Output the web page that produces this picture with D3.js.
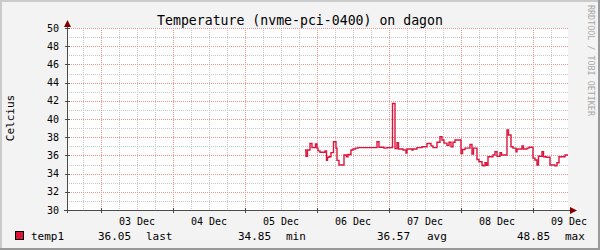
<!DOCTYPE html>
<html>
<head>
<meta charset="utf-8">
<script src="https://cdn.jsdelivr.net/npm/d3@7"></script>
<style>
  body { margin: 0; background: #fff; }
  svg { display: block; }
  text { font-family: "DejaVu Sans Mono", monospace; }
</style>
</head>
<body>
<svg id="chart" width="600" height="250"></svg>
<script>
// Chart data
const title = "Temperature (nvme-pci-0400) on dagon";
const yTitle = "Celcius";
const seriesName = "temp1";

// sample times, in hours after 03 Dec 00:00, and temperature at each step
const hoursFromDec3 = [
  68.0, 68.33, 68.83, 69.67, 70.33, 71.5, 72.0, 72.33, 73.0, 74.67,
  75.17, 75.5, 76.0, 76.67, 77.5, 78.33, 78.67, 79.33, 81.0, 81.83,
  82.33, 83.33, 84.0, 84.83, 85.67, 92.0, 92.67, 94.33, 95.33, 97.17,
  98.0, 98.67, 99.17, 100.67, 101.67, 102.0, 103.67, 104.0, 105.33, 107.0,
  108.67, 110.0, 110.67, 112.0, 113.0, 113.67, 114.33, 115.33, 116.0, 116.67,
  117.33, 118.0, 120.0, 120.5, 121.33, 123.0, 123.67, 124.17, 125.33, 126.0,
  127.0, 127.33, 128.0, 128.5, 129.0, 130.67, 131.33, 132.0, 133.0, 133.5,
  135.33, 135.83, 136.67, 137.33, 138.33, 138.67, 140.33, 140.83, 142.0, 142.67,
  144.0, 144.67, 145.33, 145.83, 147.0, 147.5, 148.33, 149.67, 151.33, 152.0,
  152.67, 154.67
];
const temps = [
  36.6, 35.9, 36.6, 37.3, 36.85, 37.25, 36.8, 36.5, 36.35, 36.5,
  35.45, 35.8, 35.85, 36.3, 37.5, 36.8, 35.45, 34.95, 36.05, 35.85,
  36.1, 36.6, 36.7, 36.8, 36.85, 37.5, 36.9, 36.8, 36.85, 41.7,
  36.75, 37.4, 36.7, 36.6, 36.25, 36.7, 36.6, 36.7, 36.85, 36.95,
  37.3, 37.05, 36.85, 37.45, 38.05, 37.7, 37.35, 37.1, 37.45, 36.95,
  37.45, 37.7, 36.2, 36.65, 36.8, 37.2, 36.15, 36.8, 35.55, 35.3,
  34.95, 34.85, 35.2, 34.9, 35.85, 36.05, 36.4, 35.9, 36.3, 36.05,
  38.8, 38.25, 36.95, 36.8, 36.4, 36.7, 37.05, 36.7, 36.8, 36.9,
  35.7, 35.5, 34.95, 35.9, 36.4, 35.85, 35.8, 34.95, 34.85, 35.2,
  35.85, 36.05
];

const yTicks = [30, 32, 34, 36, 38, 40, 42, 44, 46, 48, 50];
const legendLabels = ["last", "min", "avg", "max"];
const legendValues = [36.05, 34.85, 36.57, 48.85];

// layout
const W = 600, H = 250;
const plot = { left: 67, right: 568, top: 28, bottom: 210 };
const axisColor = "#4a4a4a";
const arrowColor = "#7f0000";
const lineColor = "#dc143c";

const svg = d3.select("#chart");

const dec3 = new Date(2021, 11, 3);
const atHour = h => new Date(dec3.getTime() + h * 3600e3);

const x = d3.scaleTime()
  .domain([atHour(-11.33), atHour(155.67)])
  .range([plot.left, plot.right]);
const y = d3.scaleLinear().domain([30, 50]).range([plot.bottom, plot.top]);

// background with 3D-ish frame
svg.append("rect").attr("width", W).attr("height", H).attr("fill", "#f3f3f3");
svg.append("path").attr("d", `M1,${H} V1 H${W}`).attr("fill", "none")
  .attr("stroke", "#cbcbcb").attr("stroke-width", 2);
svg.append("path").attr("d", `M0,${H - 1} H${W - 1} V0`).attr("fill", "none")
  .attr("stroke", "#999").attr("stroke-width", 2);

svg.append("rect")
  .attr("x", plot.left).attr("y", plot.top)
  .attr("width", plot.right - plot.left).attr("height", plot.bottom - plot.top)
  .attr("fill", "#fff");

// grid
const grid = svg.append("g").attr("shape-rendering", "crispEdges")
  .attr("stroke-dasharray", "1,1");
const [t0, t1] = x.domain();
const days = d3.timeDay.range(t0, t1);
const sixHours = d3.timeHour.every(6).range(t0, t1).filter(d => d.getHours() !== 0);

grid.selectAll(".vmin").data(sixHours).join("line")
  .attr("x1", d => Math.round(x(d)) + 0.5).attr("x2", d => Math.round(x(d)) + 0.5)
  .attr("y1", plot.top).attr("y2", plot.bottom)
  .attr("stroke", "#c8c8c8");

const minorY = d3.range(31, 50, 2);
grid.selectAll(".hmin").data(minorY).join("line")
  .attr("x1", plot.left).attr("x2", plot.right)
  .attr("y1", d => Math.round(y(d)) + 0.5).attr("y2", d => Math.round(y(d)) + 0.5)
  .attr("stroke", "#c8c8c8");

grid.selectAll(".vmaj").data(days).join("line")
  .attr("x1", d => Math.round(x(d)) + 0.5).attr("x2", d => Math.round(x(d)) + 0.5)
  .attr("y1", plot.top).attr("y2", plot.bottom)
  .attr("stroke", "#eb9595");

grid.selectAll(".hmaj").data(yTicks.filter(d => d > 30)).join("line")
  .attr("x1", plot.left).attr("x2", plot.right)
  .attr("y1", d => Math.round(y(d)) + 0.5).attr("y2", d => Math.round(y(d)) + 0.5)
  .attr("stroke", "#eb9595");

// data line (step after each sample, held to the end of the graph)
const points = hoursFromDec3.map((h, i) => ({ t: atHour(h), v: temps[i] }));
points.push({ t: t1, v: temps[temps.length - 1] });

svg.append("path")
  .datum(points)
  .attr("fill", "none")
  .attr("stroke", lineColor)
  .attr("stroke-width", 1.4)
  .attr("d", d3.line().x(d => x(d.t)).y(d => y(d.v)).curve(d3.curveStepAfter));

// axes
const ax = svg.append("g").attr("shape-rendering", "crispEdges").attr("stroke", axisColor);
ax.append("line").attr("x1", plot.left - 3).attr("x2", plot.right + 5)
  .attr("y1", plot.bottom + 0.5).attr("y2", plot.bottom + 0.5);
ax.append("line").attr("x1", plot.left + 0.5).attr("x2", plot.left + 0.5)
  .attr("y1", plot.bottom + 3).attr("y2", plot.top - 4);
ax.selectAll(".yt").data(yTicks).join("line")
  .attr("x1", plot.left - 2).attr("x2", plot.left + 3)
  .attr("y1", d => Math.round(y(d)) + 0.5).attr("y2", d => Math.round(y(d)) + 0.5);
ax.selectAll(".xt").data(days).join("line")
  .attr("x1", d => Math.round(x(d)) + 0.5).attr("x2", d => Math.round(x(d)) + 0.5)
  .attr("y1", plot.bottom - 2).attr("y2", plot.bottom + 3);

svg.append("path")
  .attr("d", `M${plot.right + 9},${plot.bottom + 0.5} l-7,-3.5 v7 z`)
  .attr("fill", arrowColor);
svg.append("path")
  .attr("d", `M${plot.left + 0.5},${plot.top - 8} l-3.5,7 h7 z`)
  .attr("fill", arrowColor);

// tick labels
svg.append("g").selectAll("text").data(yTicks).join("text")
  .attr("x", 59).attr("y", d => y(d) + 3.5)
  .attr("text-anchor", "end").attr("font-size", 10).attr("fill", "#000")
  .text(d => d);

const fmtDay = d3.timeFormat("%d %b");
svg.append("g").selectAll("text").data(days).join("text")
  .attr("x", d => x(d3.timeHour.offset(d, 12)))
  .attr("y", 225)
  .attr("text-anchor", "middle").attr("font-size", 10).attr("fill", "#000")
  .text(d => fmtDay(d));

// titles
svg.append("text").attr("x", 300).attr("y", 25).attr("text-anchor", "middle")
  .attr("font-size", 13.2).attr("fill", "#000").text(title);

svg.append("text").attr("transform", "translate(14,118) rotate(-90)")
  .attr("text-anchor", "middle").attr("font-size", 11).attr("fill", "#000")
  .text(yTitle);

svg.append("text").attr("transform", "translate(588,5) rotate(90)")
  .attr("text-anchor", "start").attr("font-size", 8.4).attr("fill", "#a8a8a8")
  .text("RRDTOOL / TOBI OETIKER");

// legend
const legend = svg.append("g").attr("font-size", 11).attr("fill", "#000");
legend.append("rect").attr("x", 15.5).attr("y", 231.5).attr("width", 8).attr("height", 8)
  .attr("fill", lineColor).attr("stroke", "#000");
legend.append("text").attr("x", 31).attr("y", 240).text(seriesName);

const valueX = [98, 238, 377, 517];
const labelX = [146, 286, 427, 565];
legendValues.forEach((v, i) => {
  legend.append("text").attr("x", valueX[i]).attr("y", 240).text(v.toFixed(2));
  legend.append("text").attr("x", labelX[i]).attr("y", 240).text(legendLabels[i]);
});
</script>
</body>
</html>
